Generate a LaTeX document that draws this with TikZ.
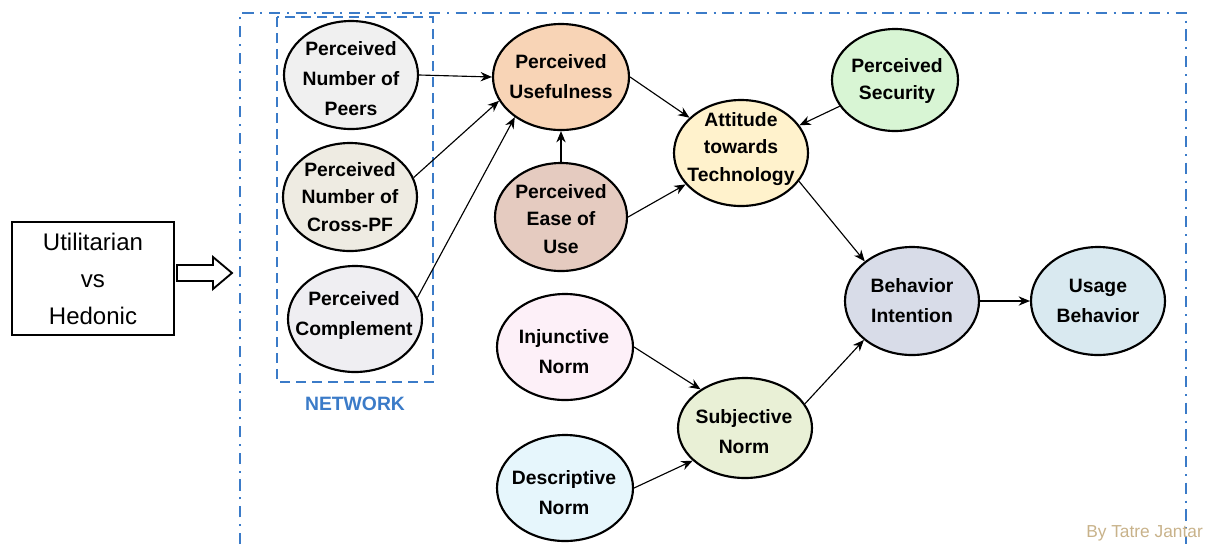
\documentclass[tikz,border=0pt]{standalone}
\usepackage{fontspec}
\setmainfont{Liberation Sans}
\usetikzlibrary{shapes.geometric,arrows.meta}
\definecolor{netblue}{RGB}{59,123,200}
\definecolor{credit}{RGB}{200,178,138}
\definecolor{cpeers}{HTML}{F0F0F0}
\definecolor{ccross}{HTML}{EEEBE2}
\definecolor{ccomp}{HTML}{EFEEF2}
\definecolor{cuse}{HTML}{F8D4B6}
\definecolor{cease}{HTML}{E5CBC0}
\definecolor{catt}{HTML}{FFF2CC}
\definecolor{csec}{HTML}{D8F5D4}
\definecolor{cbi}{HTML}{D8DCE8}
\definecolor{cusage}{HTML}{D9E9F0}
\definecolor{csubj}{HTML}{E9F0D6}
\definecolor{cinj}{HTML}{FDF0F8}
\definecolor{cdesc}{HTML}{E6F6FC}
\begin{document}
\begin{tikzpicture}[x=0.75pt,y=-0.75pt,
  ell/.style={ellipse,draw=black,line width=1.6pt,inner sep=0pt},
  txt/.style={align=center,inner sep=0pt,font=\fontsize{14.5pt}{22.5pt}\selectfont\bfseries},
  tight/.style={font=\fontsize{14.5pt}{20.6pt}\selectfont\bfseries},
  sz/.style 2 args={minimum width=#1*1.5pt,minimum height=#2*1.5pt},
  conn/.style={-{Stealth[length=8.5pt,width=7pt]},line width=0.85pt},
  frameline/.style={netblue,line width=1.7pt,dash pattern=on 8.5pt off 5pt on 1.5pt off 5pt},
  netline/.style={netblue,line width=2.2pt,dash pattern=on 7.5pt off 4.5pt}]
\useasboundingbox (0,0) rectangle (1214,544);

% frames
\draw[frameline] (240,544) -- (240,13) -- (1186,13) -- (1186,544);
\draw[netline] (277,17) rectangle (433,382);
\node[text=netblue,font=\fontsize{14.5pt}{16pt}\selectfont\bfseries] (netlabel) at (355,404) {NETWORK};

% left box and arrow
\node[draw,line width=1.5pt,minimum width=162*0.75pt,minimum height=113*0.75pt,inner sep=0pt,
  align=center,font=\fontsize{18pt}{27.75pt}\selectfont] (ut) at (93,278.5) {Utilitarian\\vs\\Hedonic};
\draw[line width=1.4pt,line join=miter] (177,265) -- (213,265) -- (213,257) -- (232,273)
  -- (213,289) -- (213,281) -- (177,281) -- cycle;

% ellipses
\node[ell,sz={67}{54},fill=cpeers] (peers) at (351,75) {};
\node[ell,sz={67}{54},fill=ccross] (cross) at (350,197) {};
\node[ell,sz={67}{53},fill=ccomp] (comp) at (355,319) {};
\node[ell,sz={68}{53},fill=cuse] (use) at (561,77) {};
\node[ell,sz={66}{54},fill=cease] (ease) at (561,217) {};
\node[ell,sz={67}{53},fill=catt] (att) at (741,153) {};
\node[ell,sz={63}{51},fill=csec] (sec) at (895,80) {};
\node[ell,sz={67}{54},fill=cbi] (bi) at (912,301) {};
\node[ell,sz={67}{54},fill=cusage] (usage) at (1098,301) {};
\node[ell,sz={68}{53},fill=cinj] (inj) at (565,347) {};
\node[ell,sz={67}{50},fill=csubj] (subj) at (745,428) {};
\node[ell,sz={68}{53},fill=cdesc] (desc) at (565,488) {};

% texts
\node[txt] (tpeers) at (351,79) {Perceived\\Number of\\Peers};
\node[txt,tight] (tcross) at (cross.center) {Perceived\\Number of\\Cross-PF};
\node[txt] (tcomp) at (354,315) {Perceived\\Complement};
\node[txt] (tuse) at (use.center) {Perceived\\Usefulness};
\node[txt,tight] (tease) at (561,219) {Perceived\\Ease of\\Use};
\node[txt,tight] (tatt) at (741,149) {Attitude\\towards\\Technology};
\node[txt,tight] (tsec) at (897,81) {Perceived\\Security};
\node[txt] (tbi) at (bi.center) {Behavior\\Intention};
\node[txt] (tusage) at (usage.center) {Usage\\Behavior};
\node[txt] (tinj) at (564,352) {Injunctive\\Norm};
\node[txt] (tsubj) at (744,432) {Subjective\\Norm};
\node[txt] (tdesc) at (564,493) {Descriptive\\Norm};

% connectors
\draw[conn] (peers.east) -- (use.west);
\draw[conn] (cross.17) -- (use.201);
\draw[conn] (comp.19) -- (use.221);
\draw[conn] (ease.north) -- (use.south);
\draw[conn] (use.east) -- (att);
\draw[conn] (ease.east) -- (att);
\draw[conn] (sec) -- (att);
\draw[conn] (att.-26) -- (bi.140);
\draw[conn] (bi.east) -- (usage.west);
\draw[conn] (inj.east) -- (subj.139);
\draw[conn] (desc.east) -- (subj.212);
\draw[conn] (subj.22) -- (bi.219);

\node[anchor=west,text=credit,font=\fontsize{13pt}{15pt}\selectfont,inner sep=0pt] (creditlabel) at (1086,533) {By Tatre Jantar};
\end{tikzpicture}
\end{document}
